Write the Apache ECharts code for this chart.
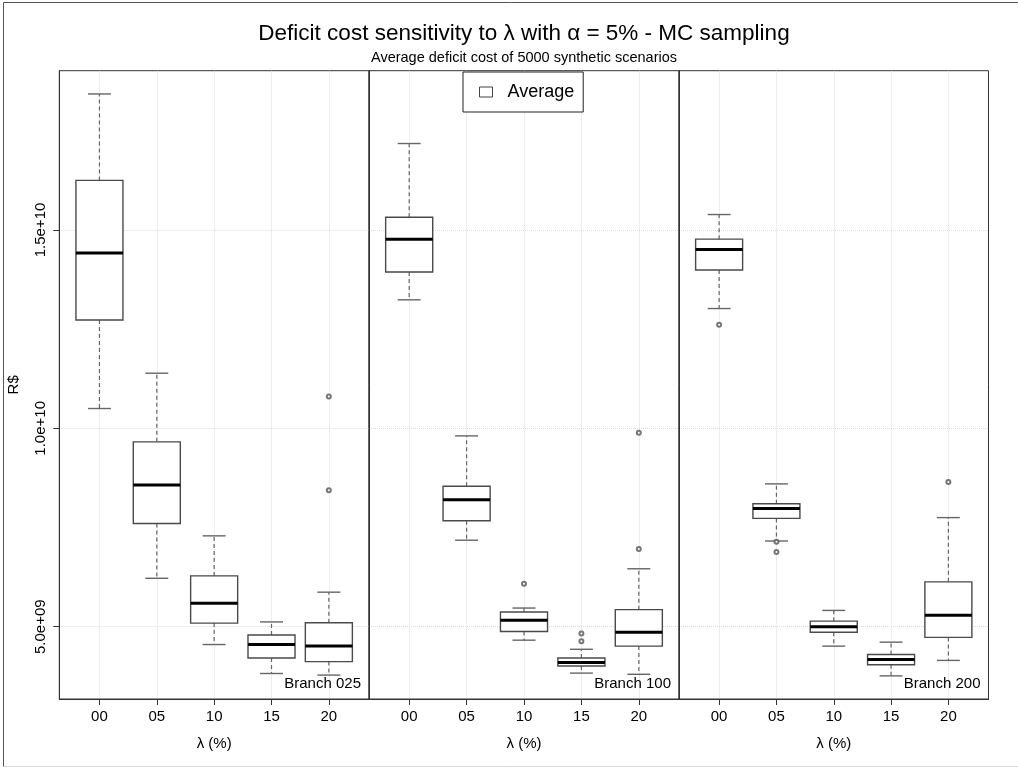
<!DOCTYPE html>
<html>
<head>
<meta charset="utf-8">
<script src="https://cdn.jsdelivr.net/npm/echarts@6/dist/echarts.min.js"></script>
<style>html,body{margin:0;padding:0;background:#fff}#c{width:1018px;height:768px}</style>
</head>
<body>
<div id="c"></div>
<script>
// ---- data (values in R$) ----
const categories = ['00', '05', '10', '15', '20'];
const branches = ['Branch 025', 'Branch 100', 'Branch 200'];
const yTicks = [5e9, 1.0e10, 1.5e10];
// each row: [lower whisker, Q1, median, Q3, upper whisker]
const b025 = [
  [10.50e9, 12.73e9, 14.42e9, 16.25e9, 18.43e9],
  [6.22e9, 7.60e9, 8.57e9, 9.66e9, 11.39e9],
  [4.55e9, 5.09e9, 5.59e9, 6.28e9, 7.29e9],
  [3.82e9, 4.21e9, 4.55e9, 4.79e9, 5.12e9],
  [3.78e9, 4.12e9, 4.51e9, 5.10e9, 5.87e9]
];
const b025Out = [[4, 10.80e9], [4, 8.44e9]];
const b100 = [
  [13.24e9, 13.94e9, 14.77e9, 15.32e9, 17.18e9],
  [7.18e9, 7.67e9, 8.20e9, 8.54e9, 9.81e9],
  [4.66e9, 4.88e9, 5.16e9, 5.37e9, 5.47e9],
  [3.83e9, 4.01e9, 4.10e9, 4.21e9, 4.43e9],
  [3.80e9, 4.51e9, 4.86e9, 5.43e9, 6.46e9]
];
const b100Out = [[2, 6.08e9], [3, 4.83e9], [3, 4.63e9], [4, 9.89e9], [4, 6.96e9]];
const b200 = [
  [13.02e9, 13.99e9, 14.51e9, 14.77e9, 15.39e9],
  [7.16e9, 7.73e9, 7.98e9, 8.10e9, 8.60e9],
  [4.51e9, 4.86e9, 5.00e9, 5.14e9, 5.41e9],
  [3.76e9, 4.04e9, 4.17e9, 4.30e9, 4.61e9],
  [4.15e9, 4.73e9, 5.29e9, 6.13e9, 7.75e9]
];
const b200Out = [[0, 12.61e9], [1, 7.14e9], [1, 6.88e9], [4, 8.65e9]];

const boxSets = [b025, b100, b200];
const outSets = [b025Out, b100Out, b200Out];

// ---- layout ----
const FONT = 'Liberation Sans';
const Y_MIN = 3.177e9, Y_MAX = 19.016e9;
const panelLeft = [59.3, 369, 679];
const panelWidth = [309.7, 310, 309.5];
const gridTop = 70.7, gridHeight = 628.3;

function fmtExp(v) {
  const parts = v.toExponential(1).split('e');
  const ex = parseInt(parts[1], 10);
  return parts[0] + 'e' + (ex < 0 ? '-' : '+') + String(Math.abs(ex)).padStart(2, '0');
}

function renderBox(params, api) {
  const x = api.value(0);
  const lo = api.coord([x, api.value(1)]);
  const q1 = api.coord([x, api.value(2)]);
  const md = api.coord([x, api.value(3)]);
  const q3 = api.coord([x, api.value(4)]);
  const hi = api.coord([x, api.value(5)]);
  const unit = api.size([1, 0])[0];
  const bh = unit * 0.41;
  const ch = unit * 0.2;
  const cx = lo[0];
  const wStyle = { stroke: '#666', lineWidth: 1.2, lineDash: [4, 3] };
  const cStyle = { stroke: '#666', lineWidth: 1.4 };
  return {
    type: 'group',
    children: [
      { type: 'line', shape: { x1: cx, y1: q3[1], x2: cx, y2: hi[1] }, style: wStyle },
      { type: 'line', shape: { x1: cx, y1: q1[1], x2: cx, y2: lo[1] }, style: wStyle },
      { type: 'line', shape: { x1: cx - ch, y1: hi[1], x2: cx + ch, y2: hi[1] }, style: cStyle },
      { type: 'line', shape: { x1: cx - ch, y1: lo[1], x2: cx + ch, y2: lo[1] }, style: cStyle },
      { type: 'rect', shape: { x: cx - bh, y: q3[1], width: 2 * bh, height: q1[1] - q3[1] },
        style: { fill: '#fff', stroke: '#4a4a4a', lineWidth: 1.4 } },
      { type: 'line', shape: { x1: cx - bh, y1: md[1], x2: cx + bh, y2: md[1] },
        style: { stroke: '#000', lineWidth: 3 } }
    ]
  };
}

const grids = [], xAxes = [], yAxes = [], series = [], graphics = [];
for (let i = 0; i < 3; i++) {
  grids.push({ left: panelLeft[i], top: gridTop, width: panelWidth[i], height: gridHeight,
    show: true, borderColor: '#333', borderWidth: 1, backgroundColor: 'transparent' });
  xAxes.push({
    type: 'value', gridIndex: i, min: -0.7, max: 4.7,
    name: 'λ (%)', nameLocation: 'middle', nameGap: 37,
    nameTextStyle: { fontFamily: FONT, fontSize: 15, color: '#000' },
    axisLine: { show: true, onZero: false, lineStyle: { color: '#333', width: 1 } },
    axisTick: { show: true, length: 6, customValues: [0, 1, 2, 3, 4], lineStyle: { color: '#333' } },
    axisLabel: { show: true, customValues: [0, 1, 2, 3, 4], margin: 10,
      formatter: v => categories[Math.round(v)],
      fontFamily: FONT, fontSize: 15, color: '#000' },
    splitLine: { show: true, lineStyle: { color: '#dcdcdc', type: 'dotted', width: 1 } }
  });
  yAxes.push({
    type: 'value', gridIndex: i, min: Y_MIN, max: Y_MAX,
    name: i === 0 ? 'R$' : '', nameLocation: 'middle', nameGap: 38, nameRotate: 90,
    nameTextStyle: { fontFamily: FONT, fontSize: 15, color: '#000' },
    axisLine: { show: true, onZero: false, lineStyle: { color: '#333', width: 1 } },
    axisTick: { show: i === 0, length: 6, customValues: yTicks, lineStyle: { color: '#333' } },
    axisLabel: { show: i === 0, customValues: yTicks, rotate: 90, margin: 11,
      formatter: fmtExp, fontFamily: FONT, fontSize: 15, color: '#000' },
    splitLine: { show: true, lineStyle: { color: '#dcdcdc', type: 'dotted', width: 1 } }
  });
  series.push({
    name: 'Average', type: 'custom', xAxisIndex: i, yAxisIndex: i,
    renderItem: renderBox,
    itemStyle: { color: '#fff', borderColor: '#4a4a4a', borderWidth: 1 },
    encode: { x: 0, y: [1, 2, 3, 4, 5] },
    data: boxSets[i].map((r, k) => [k].concat(r)),
    z: 3
  });
  series.push({
    name: 'outliers', type: 'scatter', xAxisIndex: i, yAxisIndex: i,
    symbol: 'emptyCircle', symbolSize: 4,
    itemStyle: { color: '#555', borderColor: '#555', borderWidth: 1 },
    data: outSets[i], z: 4, silent: true
  });
  graphics.push({
    type: 'text', right: 1018 - (panelLeft[i] + panelWidth[i] - 8), top: 676,
    style: { text: branches[i], font: '15px "' + FONT + '"', fill: '#000' }, z: 10
  });
}

// outer frame
graphics.push({ type: 'line', shape: { x1: 3.5, y1: 2.5, x2: 3.5, y2: 767 }, style: { stroke: '#555', lineWidth: 1 } });
graphics.push({ type: 'line', shape: { x1: 3.5, y1: 2.5, x2: 1018, y2: 2.5 }, style: { stroke: '#555', lineWidth: 1 } });
graphics.push({ type: 'line', shape: { x1: 3.5, y1: 766.5, x2: 1018, y2: 766.5 }, style: { stroke: '#d8d8d8', lineWidth: 1 } });

const chart = echarts.init(document.getElementById('c'), null, { renderer: 'canvas' });
chart.setOption({
  animation: false,
  backgroundColor: '#fff',
  title: {
    text: 'Deficit cost sensitivity to λ with α = 5% - MC sampling',
    subtext: 'Average deficit cost of 5000 synthetic scenarios',
    left: 524, top: 22, textAlign: 'center', itemGap: 5, padding: 0,
    textStyle: { fontFamily: FONT, fontSize: 22.5, fontWeight: 'normal', color: '#000' },
    subtextStyle: { fontFamily: FONT, fontSize: 14.5, color: '#000' }
  },
  legend: {
    data: [{ name: 'Average', icon: 'rect', itemStyle: { color: '#fff', borderColor: '#444', borderWidth: 1 } }],
    left: 463, top: 72, orient: 'horizontal',
    itemWidth: 13, itemHeight: 10,
    padding: [11, 9, 11, 16],
    backgroundColor: '#fff', borderColor: '#222', borderWidth: 1,
    textStyle: { fontFamily: FONT, fontSize: 18, color: '#000', padding: [0, 0, 0, 10] },
    selectedMode: false
  },
  grid: grids, xAxis: xAxes, yAxis: yAxes, series: series,
  graphic: graphics
});
</script>
</body>
</html>
